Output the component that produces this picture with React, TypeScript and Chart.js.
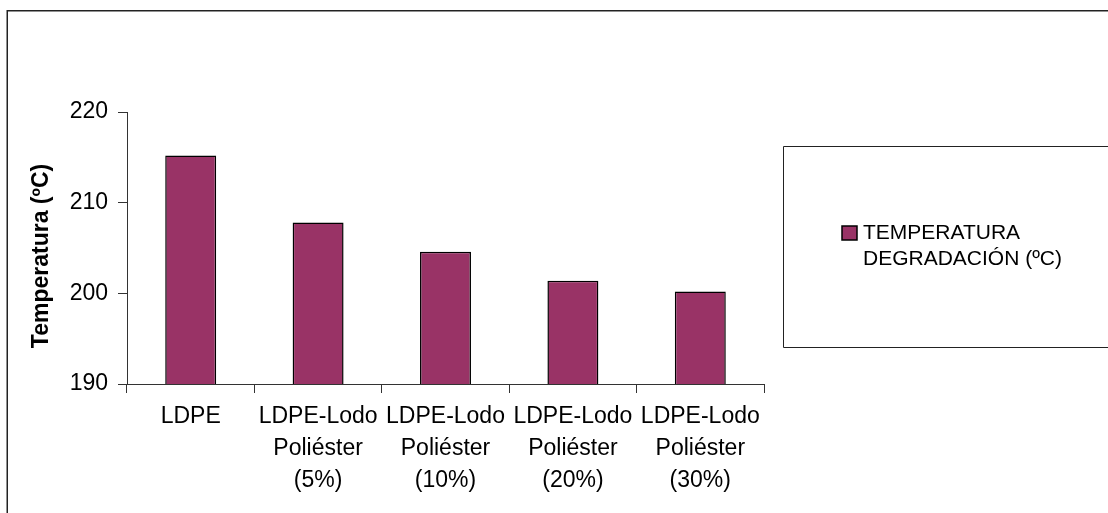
import React, { useEffect, useRef } from 'react';
import { Chart, registerables } from 'chart.js';

Chart.register(...registerables);

const categories: string[][] = [
  ['LDPE'],
  ['LDPE-Lodo', 'Poliéster', '(5%)'],
  ['LDPE-Lodo', 'Poliéster', '(10%)'],
  ['LDPE-Lodo', 'Poliéster', '(20%)'],
  ['LDPE-Lodo', 'Poliéster', '(30%)'],
];
const degradationTemps: number[] = [215.2, 207.8, 204.6, 201.4, 200.2];
const yTickValues: number[] = [190, 200, 210, 220];
const yAxisTitle = 'Temperatura (ºC)';
const legendLines: string[] = ['TEMPERATURA', 'DEGRADACIÓN (ºC)'];

const FONT = "'Liberation Sans', Arial, sans-serif";
const BAR_COLOR = '#993366';

const decorPlugin = {
  id: 'decor',
  afterDraw(chart: any) {
    const ctx = chart.ctx as CanvasRenderingContext2D;
    const area = chart.chartArea;
    ctx.save();
    // outer frame (extends beyond the visible canvas on right/bottom)
    ctx.strokeStyle = '#222';
    ctx.lineWidth = 1.5;
    ctx.beginPath();
    ctx.moveTo(7.25, 600);
    ctx.lineTo(7.25, 10.75);
    ctx.lineTo(1200, 10.75);
    ctx.stroke();

    // y-axis title
    ctx.fillStyle = '#000';
    ctx.font = `bold 23px ${FONT}`;
    ctx.textAlign = 'center';
    ctx.textBaseline = 'middle';
    ctx.translate(42, (area.top + area.bottom) / 2 + 8);
    ctx.rotate(-Math.PI / 2);
    ctx.fillText(yAxisTitle, 0, 0);
    ctx.restore();

    // legend box
    ctx.save();
    ctx.strokeStyle = '#222';
    ctx.lineWidth = 1;
    ctx.beginPath();
    ctx.moveTo(1200, 146.5);
    ctx.lineTo(783.5, 146.5);
    ctx.lineTo(783.5, 347.5);
    ctx.lineTo(1200, 347.5);
    ctx.stroke();

    const ds = chart.data.datasets[0];
    ctx.fillStyle = ds.backgroundColor;
    ctx.fillRect(842, 226, 15, 14);
    ctx.strokeStyle = '#000';
    ctx.lineWidth = 1.5;
    ctx.strokeRect(842, 226, 15, 14);

    ctx.fillStyle = '#000';
    ctx.font = `21px ${FONT}`;
    ctx.textAlign = 'left';
    ctx.textBaseline = 'middle';
    legendLines.forEach((line, i) => {
      ctx.fillText(line, 863, 233 + i * 26.5);
    });
    ctx.restore();
  },
};

export default function App() {
  const canvasRef = useRef<HTMLCanvasElement | null>(null);

  useEffect(() => {
    document.body.style.margin = '0';
    const canvas = canvasRef.current;
    if (!canvas) return;
    const chart = new Chart(canvas, {
      type: 'bar',
      data: {
        labels: categories,
        datasets: [
          {
            label: legendLines.join(' '),
            data: degradationTemps,
            backgroundColor: BAR_COLOR,
            borderColor: '#000',
            borderWidth: 1.5,
            categoryPercentage: 1,
            barPercentage: 0.4,
          },
        ],
      },
      options: {
        responsive: false,
        animation: false,
        devicePixelRatio: 1,
        layout: { padding: { top: 112, right: 344, bottom: 0, left: 0 } },
        plugins: {
          legend: { display: false },
          tooltip: { enabled: false },
          title: { display: false },
        },
        scales: {
          x: {
            type: 'category',
            afterFit(scale: any) {
              scale.height = 129;
            },
            grid: {
              offset: true,
              drawOnChartArea: false,
              drawTicks: true,
              tickLength: 9,
              color: '#333',
            },
            border: { display: true, color: '#333', width: 1 },
            ticks: {
              color: '#000',
              padding: 8,
              maxRotation: 0,
              autoSkip: false,
              font: { family: FONT, size: 23, lineHeight: 1.38 },
            },
          },
          y: {
            min: yTickValues[0],
            max: yTickValues[yTickValues.length - 1],
            afterFit(scale: any) {
              scale.width = 127;
            },
            afterBuildTicks(scale: any) {
              scale.ticks = yTickValues.map((v) => ({ value: v }));
            },
            grid: {
              drawOnChartArea: false,
              drawTicks: true,
              tickLength: 9,
              color: '#333',
            },
            border: { display: true, color: '#333', width: 1 },
            ticks: {
              color: '#000',
              padding: 10,
              font: { family: FONT, size: 23 },
            },
          },
        },
      },
      plugins: [decorPlugin],
    });
    return () => chart.destroy();
  }, []);

  return (
    <div style={{ position: 'absolute', left: 0, top: 0, width: 1108, height: 513, background: '#fff' }}>
      <canvas ref={canvasRef} width={1108} height={513} style={{ display: 'block' }} />
    </div>
  );
}
